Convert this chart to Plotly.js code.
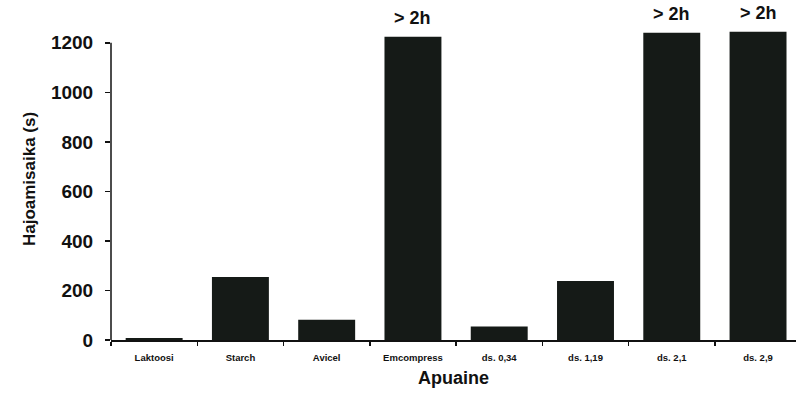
<!DOCTYPE html>
<html>
<head>
<meta charset="utf-8">
<script src="https://cdn.plot.ly/plotly-3.0.1.min.js"></script>
<style>html,body{margin:0;padding:0;background:#fff;}#chart{width:796px;height:394px;}</style>
</head>
<body>
<div id="chart"></div>
<script>
const categories = ["Laktoosi", "Starch", "Avicel", "Emcompress", "ds. 0,34", "ds. 1,19", "ds. 2,1", "ds. 2,9"];
const values = [8, 254, 82, 1224, 55, 238, 1240, 1244];
const capLabel = "> 2h";
const cappedCategories = ["Emcompress", "ds. 2,1", "ds. 2,9"];
const yTicks = [0, 200, 400, 600, 800, 1000, 1200];

const barColor = "#151a17";
const font = "Liberation Sans, Arial, sans-serif";

const trace = {
  type: "bar",
  x: categories,
  y: values,
  marker: {color: barColor, line: {width: 0}},
  hoverinfo: "skip"
};

const annotations = cappedCategories.map(c => ({
  x: c, y: values[categories.indexOf(c)],
  xref: "x", yref: "y",
  text: capLabel, showarrow: false,
  yanchor: "bottom", yshift: 7,
  font: {family: font, size: 18, color: "#111", weight: "bold"}
}));

const layout = {
  width: 796, height: 394,
  margin: {l: 111, r: 0, t: 18, b: 54},
  paper_bgcolor: "#fff", plot_bgcolor: "#fff",
  showlegend: false,
  bargap: 0.34,
  xaxis: {
    type: "category",
    range: [-0.5, 7.44],
    showline: true, linecolor: "#111", linewidth: 1.5,
    ticks: "outside", tickson: "boundaries", ticklen: 4, tickcolor: "#111", tickwidth: 1.5,
    ticklabelstandoff: 8,
    tickfont: {family: font, size: 9.5, color: "#111", weight: "bold"},
    showgrid: false, zeroline: false,
    title: {text: "Apuaine", standoff: 9, font: {family: font, size: 18, color: "#111", weight: "bold"}}
  },
  yaxis: {
    range: [0, 1300],
    tickvals: yTicks,
    ticktext: yTicks.map(String),
    showline: false,
    ticks: "outside", ticklen: 5, tickcolor: "#111", tickwidth: 1.5,
    ticklabelstandoff: 8,
    tickfont: {family: font, size: 19, color: "#111", weight: "bold"},
    showgrid: false, zeroline: false,
    title: {text: "Hajoamisaika (s)", standoff: 10, font: {family: font, size: 17, color: "#111", weight: "bold"}}
  },
  shapes: [{
    type: "line", xref: "paper", yref: "y",
    x0: 0, x1: 0, y0: 0, y1: 1200,
    line: {color: "#111", width: 1.5}
  }],
  annotations: annotations
};

Plotly.newPlot("chart", [trace], layout, {staticPlot: true, displayModeBar: false});
</script>
</body>
</html>
